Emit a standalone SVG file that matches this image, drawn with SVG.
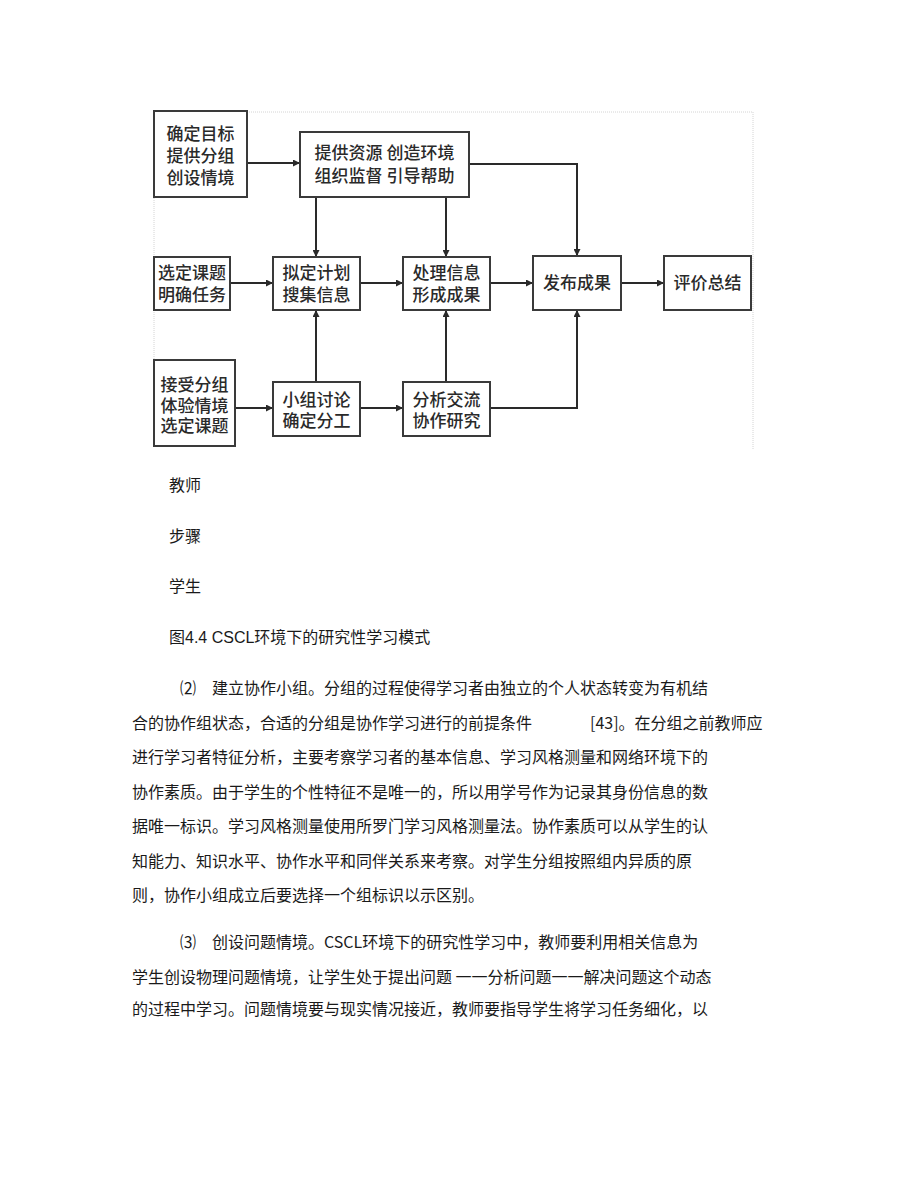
<svg xmlns="http://www.w3.org/2000/svg" width="920" height="1192" viewBox="0 0 920 1192">
<defs>
<marker id="ah" viewBox="0 0 10 10" refX="10" refY="5" markerWidth="8" markerHeight="7" markerUnits="userSpaceOnUse" orient="auto">
<path d="M0,0 L10,5 L0,10 z" fill="#2a2a2a"/>
</marker>
<style>
.box{fill:#fff;stroke:#3a3a3a;stroke-width:2}
.bt{font-family:"Noto Sans CJK SC","Noto Sans",sans-serif;font-size:17px;font-weight:500;fill:#2a2a2a;text-anchor:middle}
.con{fill:none;stroke:#2a2a2a;stroke-width:2;marker-end:url(#ah)}
.frame{fill:none;stroke:#d4d4d4;stroke-width:1;stroke-dasharray:1 1}
.lab{font-family:"Liberation Sans","Noto Sans CJK SC",sans-serif;font-size:16px;fill:#1a1a1a}
.p{font-family:"Noto Sans CJK SC","Liberation Sans",sans-serif;font-size:16px;fill:#1a1a1a}
</style>
</defs>
<rect width="920" height="1192" fill="#fff"/>
<path class="frame" d="M154 447 V112 H753 V450"/>

<g id="connectors">
<path class="con" d="M247 163 H300"/>
<path class="con" d="M316 197 V257"/>
<path class="con" d="M446 197 V257"/>
<path class="con" d="M469 164 H577 V256"/>
<path class="con" d="M230 283 H273"/>
<path class="con" d="M360 283 H403"/>
<path class="con" d="M490 283 H533"/>
<path class="con" d="M621 283 H664"/>
<path class="con" d="M235 408 H273"/>
<path class="con" d="M316 382 V310"/>
<path class="con" d="M360 408 H403"/>
<path class="con" d="M446 382 V310"/>
<path class="con" d="M490 408 H577 V310"/>
</g>

<g id="n1"><rect class="box" x="154" y="111" width="93" height="86"/>
<text class="bt" x="200.5" y="139.5">确定目标</text><text class="bt" x="200.5" y="161.5">提供分组</text><text class="bt" x="200.5" y="183.5">创设情境</text></g>
<g id="n2"><rect class="box" x="300" y="132" width="169" height="65"/>
<text class="bt" x="384.5" y="159" xml:space="preserve">提供资源 创造环境</text><text class="bt" x="384.5" y="182" xml:space="preserve">组织监督 引导帮助</text></g>
<g id="n3"><rect class="box" x="154" y="257" width="76" height="53"/>
<text class="bt" x="192" y="279">选定课题</text><text class="bt" x="192" y="301">明确任务</text></g>
<g id="n4"><rect class="box" x="273" y="257" width="87" height="53"/>
<text class="bt" x="316.5" y="279">拟定计划</text><text class="bt" x="316.5" y="301">搜集信息</text></g>
<g id="n5"><rect class="box" x="403" y="257" width="87" height="53"/>
<text class="bt" x="446.5" y="279">处理信息</text><text class="bt" x="446.5" y="301">形成成果</text></g>
<g id="n6"><rect class="box" x="533" y="256" width="88" height="54"/>
<text class="bt" x="577" y="289">发布成果</text></g>
<g id="n7"><rect class="box" x="664" y="256" width="87" height="54"/>
<text class="bt" x="707.5" y="289">评价总结</text></g>
<g id="n8"><rect class="box" x="154" y="360" width="81" height="86"/>
<text class="bt" x="194.5" y="391">接受分组</text><text class="bt" x="194.5" y="411.5">体验情境</text><text class="bt" x="194.5" y="432">选定课题</text></g>
<g id="n9"><rect class="box" x="273" y="382" width="87" height="54"/>
<text class="bt" x="316.5" y="406">小组讨论</text><text class="bt" x="316.5" y="427">确定分工</text></g>
<g id="n10"><rect class="box" x="403" y="382" width="87" height="54"/>
<text class="bt" x="446.5" y="406">分析交流</text><text class="bt" x="446.5" y="427">协作研究</text></g>

<g id="labels">
<text class="lab" x="169" y="491">教师</text>
<text class="lab" x="169" y="542">步骤</text>
<text class="lab" x="169" y="592">学生</text>
<text class="lab" x="169" y="643">图4.4 CSCL环境下的研究性学习模式</text>
</g>

<g id="body">
<text class="p" x="180" y="694">⑵</text>
<text class="p" x="212" y="694">建立协作小组。分组的过程使得学习者由独立的个人状态转变为有机结</text>
<text class="p" x="132" y="728.5">合的协作组状态，合适的分组是协作学习进行的前提条件</text>
<text class="p" x="590" y="728.5">[43]。在分组之前教师应</text>
<text class="p" x="132" y="763">进行学习者特征分析，主要考察学习者的基本信息、学习风格测量和网络环境下的</text>
<text class="p" x="132" y="797.5">协作素质。由于学生的个性特征不是唯一的，所以用学号作为记录其身份信息的数</text>
<text class="p" x="132" y="832">据唯一标识。学习风格测量使用所罗门学习风格测量法。协作素质可以从学生的认</text>
<text class="p" x="132" y="866.5">知能力、知识水平、协作水平和同伴关系来考察。对学生分组按照组内异质的原</text>
<text class="p" x="132" y="901">则，协作小组成立后要选择一个组标识以示区别。</text>
<text class="p" x="180" y="948">⑶</text>
<text class="p" x="212" y="948">创设问题情境。CSCL环境下的研究性学习中，教师要利用相关信息为</text>
<text class="p" x="132" y="983" xml:space="preserve">学生创设物理问题情境，让学生处于提出问题 一一分析问题一一解决问题这个动态</text>
<text class="p" x="132" y="1015">的过程中学习。问题情境要与现实情况接近，教师要指导学生将学习任务细化，以</text>
</g>
</svg>
